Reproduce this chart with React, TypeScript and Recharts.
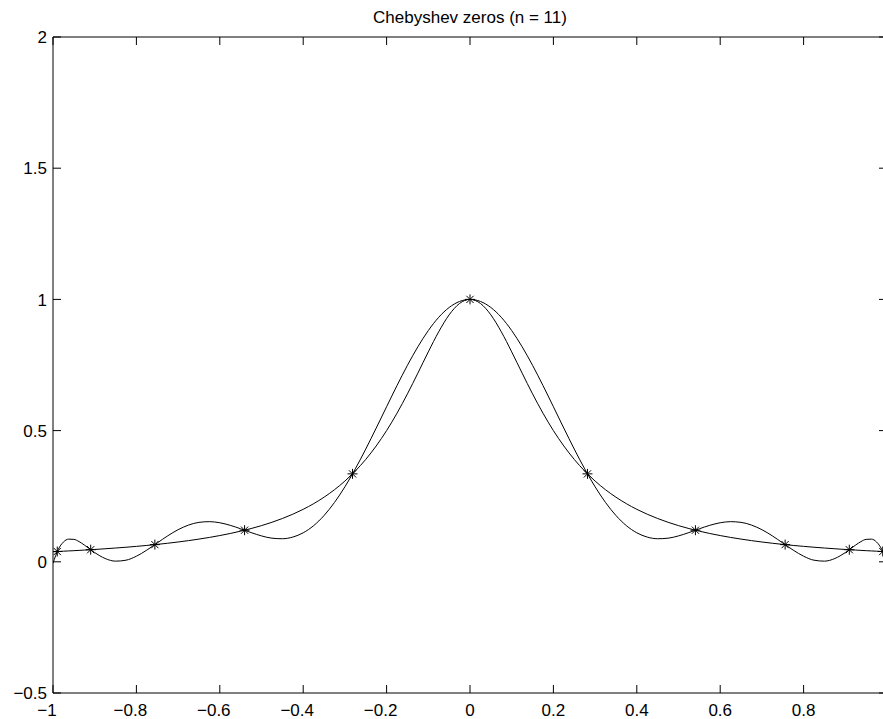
import React from 'react';
import { ComposedChart, Line, Scatter, XAxis, YAxis } from 'recharts';

// sample positions along x (finer near the ends, where the interpolant wiggles fastest)
const xs = [
  -1, -0.9875, -0.975, -0.9625, -0.95, -0.9375, -0.925, -0.9125, -0.9, -0.8875, -0.875, -0.85, -0.825, -0.8,
  -0.775, -0.75, -0.725, -0.7, -0.675, -0.65, -0.625, -0.6, -0.575, -0.55, -0.525, -0.5, -0.475, -0.45, -0.425,
  -0.4, -0.375, -0.35, -0.325, -0.3, -0.275, -0.25, -0.225, -0.2, -0.175, -0.15, -0.125, -0.1, -0.075, -0.05,
  -0.025, 0, 0.025, 0.05, 0.075, 0.1, 0.125, 0.15, 0.175, 0.2, 0.225, 0.25, 0.275, 0.3, 0.325, 0.35, 0.375, 0.4,
  0.425, 0.45, 0.475, 0.5, 0.525, 0.55, 0.575, 0.6, 0.625, 0.65, 0.675, 0.7, 0.725, 0.75, 0.775, 0.8, 0.825,
  0.85, 0.875, 0.8875, 0.9, 0.9125, 0.925, 0.9375, 0.95, 0.9625, 0.975, 0.9875, 1,
];

// smooth bell curve
const runge = [
  0.0385, 0.0394, 0.0404, 0.0414, 0.0424, 0.0435, 0.0447, 0.0458, 0.0471, 0.0483, 0.0497, 0.0525, 0.0555, 0.0588,
  0.0624, 0.0664, 0.0707, 0.0755, 0.0807, 0.0865, 0.0929, 0.1, 0.1079, 0.1168, 0.1267, 0.1379, 0.1506, 0.165,
  0.1813, 0.2, 0.2215, 0.2462, 0.2747, 0.3077, 0.346, 0.3902, 0.4414, 0.5, 0.5664, 0.64, 0.7191, 0.8, 0.8767,
  0.9412, 0.9846, 1, 0.9846, 0.9412, 0.8767, 0.8, 0.7191, 0.64, 0.5664, 0.5, 0.4414, 0.3902, 0.346, 0.3077,
  0.2747, 0.2462, 0.2215, 0.2, 0.1813, 0.165, 0.1506, 0.1379, 0.1267, 0.1168, 0.1079, 0.1, 0.0929, 0.0865,
  0.0807, 0.0755, 0.0707, 0.0664, 0.0624, 0.0588, 0.0555, 0.0525, 0.0497, 0.0483, 0.0471, 0.0458, 0.0447,
  0.0435, 0.0424, 0.0414, 0.0404, 0.0394, 0.0385,
];

// wiggly polynomial through the starred points
const interp = [
  -0.0053, 0.0469, 0.0753, 0.0864, 0.0855, 0.077, 0.0641, 0.0495, 0.0352, 0.0226, 0.0126, 0.0025, 0.0061,
  0.0213, 0.0446, 0.0718, 0.0989, 0.1224, 0.14, 0.1503, 0.153, 0.1488, 0.139, 0.1258, 0.1114, 0.0987, 0.09,
  0.0879, 0.0942, 0.1105, 0.1377, 0.1764, 0.2261, 0.2858, 0.3543, 0.4296, 0.5094, 0.591, 0.6718, 0.7489, 0.8195,
  0.8812, 0.9318, 0.9692, 0.9922, 1, 0.9922, 0.9692, 0.9318, 0.8812, 0.8195, 0.7489, 0.6718, 0.591, 0.5094,
  0.4296, 0.3543, 0.2858, 0.2261, 0.1764, 0.1377, 0.1105, 0.0942, 0.0879, 0.09, 0.0987, 0.1114, 0.1258, 0.139,
  0.1488, 0.153, 0.1503, 0.14, 0.1224, 0.0989, 0.0718, 0.0446, 0.0213, 0.0061, 0.0025, 0.0126, 0.0226, 0.0352,
  0.0495, 0.0641, 0.077, 0.0855, 0.0864, 0.0753, 0.0469, -0.0053,
];

const nodeX = [-0.9898, -0.9096, -0.7557, -0.5406, -0.2817, 0, 0.2817, 0.5406, 0.7557, 0.9096, 0.9898];
const nodeY = [0.0392, 0.0461, 0.0655, 0.1204, 0.3351, 1, 0.3351, 0.1204, 0.0655, 0.0461, 0.0392];

const xTicks = [-1, -0.8, -0.6, -0.4, -0.2, 0, 0.2, 0.4, 0.6, 0.8, 1];
const yTicks = [-0.5, 0, 0.5, 1, 1.5, 2];

const FONT = '"Liberation Sans", Arial, Helvetica, sans-serif';

const rungeData = xs.map((x, i) => ({ x, y: runge[i] }));
const interpData = xs.map((x, i) => ({ x, y: interp[i] }));
const nodeData = nodeX.map((x, i) => ({ x, y: nodeY[i] }));

const fmt = (v: number) => (v < 0 ? '\u2212' + String(-v) : String(v));

const XTick = (props: any) => {
  const { x, y, payload } = props;
  // the label for 1 falls past the cropped right edge
  if (payload.value >= 1) return <g />;
  return (
    <text
      x={x}
      y={y}
      dx={payload.value < 0 ? -6 : 0}
      dy="0.71em"
      textAnchor="middle"
      fontSize={17}
      fontFamily={FONT}
      fill="#000"
    >
      {fmt(payload.value)}
    </text>
  );
};

const YTick = (props: any) => {
  const { x, y, payload } = props;
  return (
    <text x={x} y={y} dy="0.36em" textAnchor="end" fontSize={17} fontFamily={FONT} fill="#000">
      {fmt(payload.value)}
    </text>
  );
};

// only the inward tick mark is wanted on the mirrored axes
const NoLabel = () => <g />;

const Star = (props: any) => {
  const { cx, cy } = props;
  if (cx == null || cy == null) return null;
  const r = 5;
  const d = 3.6;
  return (
    <g stroke="#000" strokeWidth={1}>
      <line x1={cx - r} y1={cy} x2={cx + r} y2={cy} />
      <line x1={cx} y1={cy - r} x2={cx} y2={cy + r} />
      <line x1={cx - d} y1={cy - d} x2={cx + d} y2={cy + d} />
      <line x1={cx - d} y1={cy + d} x2={cx + d} y2={cy - d} />
    </g>
  );
};

export default function App() {
  return (
    <div style={{ position: 'absolute', left: 0, top: 0, width: 883, height: 719, overflow: 'hidden', background: '#fff' }}>
      <div
        style={{
          position: 'absolute',
          left: 0,
          top: 7,
          width: 940,
          textAlign: 'center',
          fontFamily: FONT,
          fontSize: 17,
          lineHeight: '22px',
          color: '#000',
        }}
      >
        Chebyshev zeros (n = 11)
      </div>
      <ComposedChart width={900} height={719} margin={{ top: 37, right: 13, bottom: 0, left: 0 }}>
        <XAxis
          xAxisId="x"
          dataKey="x"
          type="number"
          domain={[-1, 1]}
          ticks={xTicks}
          allowDataOverflow
          tickLine={false}
          tickSize={0}
          tickMargin={11}
          height={26}
          axisLine={{ stroke: '#000' }}
          tick={<XTick />}
        />
        <XAxis xAxisId="xb" dataKey="x" type="number" domain={[-1, 1]} ticks={xTicks} allowDataOverflow mirror tick={<NoLabel />} tickSize={8} axisLine={false} tickLine={{ stroke: '#000' }} />
        <XAxis xAxisId="xt" dataKey="x" orientation="top" type="number" domain={[-1, 1]} ticks={xTicks} allowDataOverflow mirror tick={<NoLabel />} tickSize={8} axisLine={{ stroke: '#000' }} tickLine={{ stroke: '#000' }} />
        <YAxis
          yAxisId="y"
          type="number"
          domain={[-0.5, 2]}
          ticks={yTicks}
          allowDataOverflow
          width={53}
          tickLine={false}
          tickSize={0}
          tickMargin={6}
          axisLine={{ stroke: '#000' }}
          tick={<YTick />}
        />
        <YAxis yAxisId="yl" type="number" domain={[-0.5, 2]} ticks={yTicks} allowDataOverflow mirror tick={<NoLabel />} tickSize={8} axisLine={false} tickLine={{ stroke: '#000' }} />
        <YAxis yAxisId="yr" orientation="right" type="number" domain={[-0.5, 2]} ticks={yTicks} allowDataOverflow mirror tick={<NoLabel />} tickSize={8} axisLine={{ stroke: '#000' }} tickLine={{ stroke: '#000' }} />
        {/* invisible series so the frame axes get a scale and draw their tick marks */}
        <Line xAxisId="xb" yAxisId="yl" data={nodeData} dataKey="y" stroke="none" dot={false} legendType="none" isAnimationActive={false} />
        <Line xAxisId="xt" yAxisId="yr" data={nodeData} dataKey="y" stroke="none" dot={false} legendType="none" isAnimationActive={false} />
        <Line
          xAxisId="x"
          yAxisId="y"
          data={rungeData}
          dataKey="y"
          type="monotone"
          stroke="#000"
          strokeWidth={1}
          dot={false}
          isAnimationActive={false}
        />
        <Line
          xAxisId="x"
          yAxisId="y"
          data={interpData}
          dataKey="y"
          type="monotone"
          stroke="#000"
          strokeWidth={1}
          dot={false}
          isAnimationActive={false}
        />
        <Scatter xAxisId="x" yAxisId="y" data={nodeData} dataKey="y" shape={<Star />} isAnimationActive={false} />
      </ComposedChart>
    </div>
  );
}
